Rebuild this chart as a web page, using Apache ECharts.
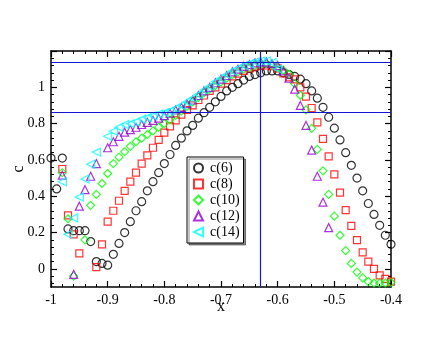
<!DOCTYPE html>
<html>
<head>
<meta charset="utf-8">
<script src="https://cdn.jsdelivr.net/npm/echarts@6/dist/echarts.min.js"></script>
<style>
  html, body { margin: 0; padding: 0; background: #fff; }
  #chart { width: 440px; height: 340px; }
</style>
</head>
<body>
<div id="chart"></div>
<script>
// x positions, step 0.01 from -1.00 to -0.40
const xs = []
for (let i = 0; i <= 60; i++) xs.push(+(-1 + i * 0.01).toFixed(2))

// values, one per x (null = no point)
const c6 = [0.61, 0.44, 0.61, 0.22, 0.21, 0.21, 0.21, 0.15, 0.04, 0.03,
  0.02, 0.08, 0.14, 0.20, 0.26, 0.32, 0.37, 0.43, 0.48, 0.53,
  0.58, 0.63, 0.68, 0.72, 0.76, 0.79, 0.83, 0.86, 0.89, 0.92,
  0.95, 0.98, 1.00, 1.02, 1.04, 1.06, 1.07, 1.08, 1.09, 1.09,
  1.09, 1.08, 1.07, 1.06, 1.045, 1.02, 0.98, 0.94, 0.89, 0.835,
  0.775, 0.71, 0.64, 0.57, 0.50, 0.43, 0.36, 0.30, 0.24, 0.185,
  0.135]
const c8 = [null, null, 0.55, 0.295, 0.19, 0.085, null, null, 0.01, 0.135,
  0.26, 0.32, 0.375, 0.43, 0.48, 0.53, 0.58, 0.625, 0.667, 0.71,
  0.75, 0.785, 0.818, 0.85, 0.875, 0.90, 0.93, 0.955, 0.98, 1.00,
  1.02, 1.04, 1.06, 1.075, 1.09, 1.104, 1.114, 1.12, 1.12, 1.116,
  1.104, 1.076, 1.055, 1.044, 1.00, 0.949, 0.886, 0.807, 0.716, 0.62,
  0.52, 0.42, 0.324, 0.237, 0.158, 0.091, 0.04, 0.0, -0.036, -0.055,
  -0.07]
const c10 = [null, null, 0.53, 0.276, -0.04, null, 0.16, 0.35, 0.41, 0.47,
  0.525, 0.58, 0.615, 0.645, 0.675, 0.70, 0.72, 0.74, 0.76, 0.78,
  0.80, 0.82, 0.845, 0.87, 0.895, 0.92, 0.945, 0.97, 0.99, 1.01,
  1.03, 1.05, 1.07, 1.085, 1.10, 1.11, 1.12, 1.125, 1.13, 1.125,
  1.11, 1.095, 1.072, 1.02, 0.956, 0.876, 0.774, 0.658, 0.54, 0.41,
  0.29, 0.185, 0.10, 0.03, -0.018, -0.05, -0.07, -0.078, -0.078, -0.078,
  -0.075]
const c12 = [null, null, 0.516, null, -0.03, 0.345, 0.436, 0.51, 0.58, null,
  0.667, 0.70, 0.73, 0.753, 0.767, 0.78, 0.795, 0.807, 0.818, 0.83,
  0.844, 0.858, 0.875, 0.89, 0.91, 0.93, 0.955, 0.98, 1.00, 1.025,
  1.045, 1.065, 1.085, 1.10, 1.115, 1.125, 1.135, 1.14, 1.14, 1.13,
  1.12, 1.09, 1.05, 0.99, 0.90, 0.79, 0.654, 0.51, 0.367, 0.227,
  null, null, null, null, null, null, null, null, null, null,
  null]
const c14 = [null, null, 0.48, 0.19, 0.28, 0.395, 0.495, 0.576, 0.643, null,
  0.73, 0.758, 0.78, 0.795, 0.80, 0.81, 0.825, 0.834, 0.843, 0.853,
  0.86, 0.87, 0.885, 0.90, 0.92, 0.94, 0.96, 0.985, 1.005, 1.03,
  1.05, 1.07, 1.09, 1.105, 1.12, 1.13, 1.14, 1.145, 1.145, 1.135,
  1.10, null, null, null, null, null, null, null, null, null,
  null, null, null, null, null, null, null, null, null, null,
  null]

// y tick marks
const yLabels = [0, 0.2, 0.4, 0.6, 0.8, 1]
const yMajor = [0, 0.2, 0.4, 0.6, 0.8, 1, 1.2]
const yMinor = []
for (let i = -2; i <= 29; i++) if (i % 5 !== 0) yMinor.push(+(i * 0.04).toFixed(2))

const hLines = [1.143, 0.856]
const vLines = [-0.63]

const serif = 'Liberation Serif'
const leftTri = 'path://M0,5 L10,0 L10,10 Z'

function pairs(vals) {
    const out = []
    vals.forEach((v, i) => { if (v !== null) out.push([xs[i], v]) })
    return out
}

function mkSeries(name, vals, symbol, size, color) {
    return {
        name: name,
        type: 'scatter',
        data: pairs(vals),
        symbol: symbol,
        symbolSize: size,
        itemStyle: { color: 'rgba(0,0,0,0)', borderColor: color, borderWidth: 1.2 },
        emphasis: { disabled: true },
        z: 3,
    }
}

const lineStyle = { color: '#000', width: 1.5 }

const xBase = {
    type: 'value', min: -1, max: -0.4, interval: 0.1,
    axisLine: { show: true, onZero: false, lineStyle: lineStyle },
    axisTick: { show: true, inside: true, length: 6, lineStyle: { color: '#000', width: 1.2 } },
    minorTick: { show: true, splitNumber: 5, length: 3, lineStyle: { color: '#000', width: 1 } },
    splitLine: { show: false },
}

function yAxisDef(pos, withLabels) {
    return {
        type: 'value', min: -0.1, max: 1.2, position: pos,
        axisLine: { show: true, onZero: false, lineStyle: lineStyle },
        axisTick: { show: true, inside: true, length: 6, customValues: yMajor, lineStyle: { color: '#000', width: 1.2 } },
        axisLabel: withLabels
            ? { show: true, customValues: yLabels, fontFamily: serif, fontSize: 14, color: '#000', margin: 6 }
            : { show: false },
        splitLine: { show: false },
    }
}

function yMinorDef(pos) {
    return {
        type: 'value', min: -0.1, max: 1.2, position: pos,
        axisLine: { show: false },
        axisTick: { show: true, inside: true, length: 3, customValues: yMinor, lineStyle: { color: '#000', width: 1 } },
        axisLabel: { show: false },
        splitLine: { show: false },
    }
}

const yMain = yAxisDef('left', true)
yMain.name = 'c'
yMain.nameLocation = 'middle'
yMain.nameGap = 24
yMain.nameMoveOverlap = false
yMain.nameTextStyle = { fontFamily: serif, fontSize: 16, color: '#000' }

const chart = echarts.init(document.getElementById('chart'))
chart.setOption({
    animation: false,
    backgroundColor: '#fff',
    grid: { left: 51, right: 49, top: 51, bottom: 53 },
    legend: {
        left: 187, top: 157,
        orient: 'vertical',
        itemWidth: 9, itemHeight: 9, itemGap: 2,
        padding: [4, 4, 4, 6],
        backgroundColor: '#fff',
        borderColor: '#000', borderWidth: 1,
        shadowColor: 'rgba(0,0,0,0.45)', shadowOffsetX: 2, shadowOffsetY: 2, shadowBlur: 0,
        textStyle: { fontFamily: serif, fontSize: 14, lineHeight: 14, color: '#000', padding: [0, 0, 0, 2] },
        data: ['c(6)', 'c(8)', 'c(10)', 'c(12)', { name: 'c(14)', icon: leftTri }],
    },
    xAxis: [
        Object.assign({}, xBase, {
            position: 'bottom',
            name: 'x', nameLocation: 'middle', nameGap: 12, nameMoveOverlap: false,
            nameTextStyle: { fontFamily: serif, fontSize: 16, color: '#000' },
            axisLabel: { fontFamily: serif, fontSize: 14, color: '#000', margin: 6 },
        }),
        Object.assign({}, xBase, { position: 'top', axisLabel: { show: false } }),
    ],
    yAxis: [
        yMain,
        yAxisDef('right', false),
        yMinorDef('left'),
        yMinorDef('right'),
    ],
    series: [
        mkSeries('c(6)', c6, 'circle', 8, '#000000'),
        mkSeries('c(8)', c8, 'rect', 7, '#ff0000'),
        mkSeries('c(10)', c10, 'diamond', 8, '#00ff00'),
        mkSeries('c(12)', c12, 'triangle', 8, '#9400d3'),
        mkSeries('c(14)', c14, leftTri, 8, '#00ffff'),
        {
            type: 'line', data: [], silent: true,
            markLine: {
                silent: true, symbol: 'none', animation: false,
                label: { show: false },
                lineStyle: { color: '#1515d0', width: 1.2, type: 'solid' },
                data: hLines.map(v => ({ yAxis: v })).concat(vLines.map(v => ({ xAxis: v }))),
            },
        },
    ],
})
</script>
</body>
</html>
